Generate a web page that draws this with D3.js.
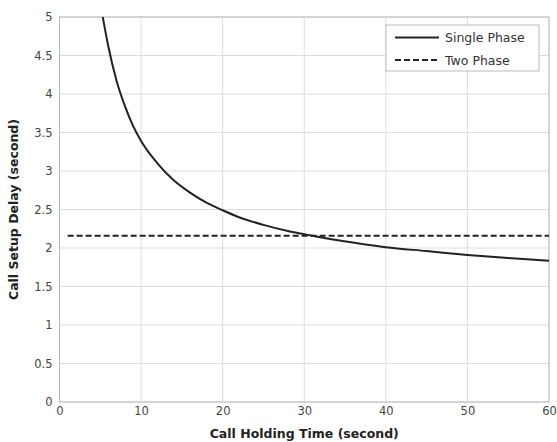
<!DOCTYPE html>
<html>
<head>
<meta charset="utf-8">
<script src="https://cdn.jsdelivr.net/npm/d3@7"></script>
<style>
  body { margin: 0; background: #fff; }
  text { font-family: "DejaVu Sans", Arial, sans-serif; }
</style>
</head>
<body>
<script>
// values
const holdingTime = [5.3, 6, 7, 8, 9, 10, 12, 14, 16, 18, 20, 22, 25, 28, 30, 33, 36, 40, 45, 50, 55, 60]
const singlePhase = [5.0, 4.61, 4.17, 3.85, 3.59, 3.39, 3.10, 2.88, 2.72, 2.59, 2.49, 2.40, 2.30, 2.22, 2.18, 2.12, 2.07, 2.01, 1.96, 1.91, 1.87, 1.835]
const twoPhaseX = [1, 60]
const twoPhase = [2.16, 2.16]
const xTicks = [0, 10, 20, 30, 40, 50, 60]
const yTicks = [0, 0.5, 1, 1.5, 2, 2.5, 3, 3.5, 4, 4.5, 5]
const seriesNames = ['Single Phase', 'Two Phase']

const width = 557, height = 442
const margin = {top: 17, right: 8, bottom: 40, left: 59.5}
const font = '"DejaVu Sans", Arial, sans-serif'

const svg = d3.select('body').append('svg')
  .attr('width', width)
  .attr('height', height)

const x = d3.scaleLinear().domain([0, 60]).range([margin.left, width - margin.right])
const y = d3.scaleLinear().domain([0, 5]).range([height - margin.bottom, margin.top])

// grid
svg.append('g')
  .selectAll('line')
  .data(xTicks)
  .join('line')
  .attr('x1', d => x(d)).attr('x2', d => x(d))
  .attr('y1', y(0)).attr('y2', y(5))
  .attr('stroke', '#ddd')

svg.append('g')
  .selectAll('line')
  .data(yTicks)
  .join('line')
  .attr('x1', x(0)).attr('x2', x(60))
  .attr('y1', d => y(d)).attr('y2', d => y(d))
  .attr('stroke', '#ddd')

// frame
svg.append('rect')
  .attr('x', x(0)).attr('y', y(5))
  .attr('width', x(60) - x(0)).attr('height', y(0) - y(5))
  .attr('fill', 'none')
  .attr('stroke', '#bbb')

// axes
const xAxis = svg.append('g')
  .attr('transform', `translate(0,${y(0)})`)
  .call(d3.axisBottom(x).tickValues(xTicks).tickSize(0).tickPadding(5))
xAxis.select('.domain').remove()
xAxis.selectAll('text').attr('font-size', 11.5).attr('fill', '#444').attr('font-family', font)

const yAxis = svg.append('g')
  .attr('transform', `translate(${x(0)},0)`)
  .call(d3.axisLeft(y).tickValues(yTicks).tickSize(0).tickPadding(7).tickFormat(d3.format('')))
yAxis.select('.domain').remove()
yAxis.selectAll('text').attr('font-size', 11.5).attr('fill', '#444').attr('font-family', font)

// lines
const line = d3.line()
  .x(d => x(d[0]))
  .y(d => y(d[1]))
  .curve(d3.curveMonotoneX)

svg.append('path')
  .datum(d3.zip(holdingTime, singlePhase))
  .attr('d', line)
  .attr('fill', 'none')
  .attr('stroke', '#222')
  .attr('stroke-width', 2)

svg.append('path')
  .datum(d3.zip(twoPhaseX, twoPhase))
  .attr('d', line)
  .attr('fill', 'none')
  .attr('stroke', '#222')
  .attr('stroke-width', 2)
  .attr('stroke-dasharray', '6,3')

// axis titles
svg.append('text')
  .attr('x', (x(0) + x(60)) / 2)
  .attr('y', 438)
  .attr('text-anchor', 'middle')
  .attr('font-size', 12.5)
  .attr('font-weight', 'bold')
  .attr('fill', '#222')
  .text('Call Holding Time (second)')

svg.append('text')
  .attr('transform', `translate(18,${(y(0) + y(5)) / 2}) rotate(-90)`)
  .attr('text-anchor', 'middle')
  .attr('font-size', 12.5)
  .attr('font-weight', 'bold')
  .attr('fill', '#222')
  .text('Call Setup Delay (second)')

// legend
const legend = svg.append('g')
legend.append('rect')
  .attr('x', 386).attr('y', 25)
  .attr('width', 153).attr('height', 46)
  .attr('fill', '#fff')
  .attr('stroke', '#bbb')

const dashes = [null, '6,3']
seriesNames.forEach((name, i) => {
  const ly = 37.5 + i * 22.5
  legend.append('line')
    .attr('x1', 395).attr('x2', 439)
    .attr('y1', ly).attr('y2', ly)
    .attr('stroke', '#222')
    .attr('stroke-width', 2)
    .attr('stroke-dasharray', dashes[i])
  legend.append('text')
    .attr('x', 445).attr('y', ly + 4.5)
    .attr('font-size', 12.5)
    .attr('fill', '#333')
    .text(name)
})
</script>
</body>
</html>
